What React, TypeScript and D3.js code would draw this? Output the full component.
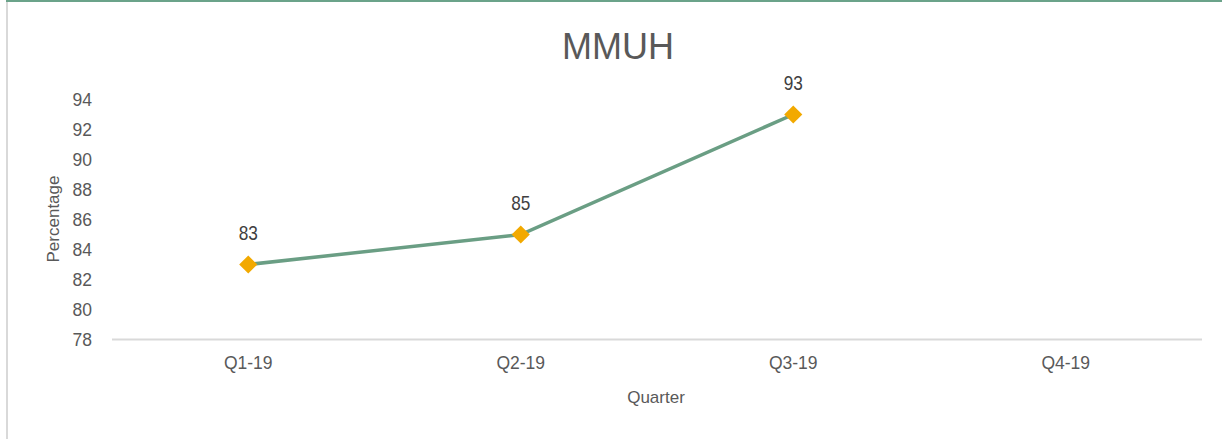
import React from 'react';
import * as d3 from 'd3';

const quarters = ['Q1-19', 'Q2-19', 'Q3-19', 'Q4-19'];
const values: (number | null)[] = [83, 85, 93, null];
const yTicks = [78, 80, 82, 84, 86, 88, 90, 92, 94];

const W = 1222;
const H = 439;
const textColor = '#595959';
const font = '"Liberation Sans", Arial, sans-serif';

const App: React.FC = () => {
  const x = d3.scaleBand<string>().domain(quarters).range([112, 1202]);
  const y = d3.scaleLinear().domain([78, 94]).range([339.5, 99.5]);

  const pts = quarters
    .map((q, i) => ({ q, v: values[i] }))
    .filter((d) => d.v !== null) as { q: string; v: number }[];

  const line = d3.line<{ q: string; v: number }>()
    .x((d) => x(d.q)! + x.bandwidth() / 2)
    .y((d) => y(d.v));

  // diamond ~18px across, like the Excel marker
  const diamond = d3.symbol().type(d3.symbolDiamond2).size(210)();

  return (
    <svg width={W} height={H} style={{ position: 'absolute', left: 0, top: 0, background: '#fff' }}>
      {/* frame */}
      <line x1={6} x2={W} y1={1} y2={1} stroke="#6ba38a" strokeWidth={2} />
      <line x1={7} x2={7} y1={2} y2={H} stroke="#d9d9d9" strokeWidth={2} />

      <text x={618} y={59} textAnchor="middle" fontSize={36} fill={textColor} fontFamily={font}>MMUH</text>

      {yTicks.map((t) => (
        <text key={t} x={92} y={y(t)} dy="0.35em" textAnchor="end" fontSize={17.5} fill={textColor} fontFamily={font}>{t}</text>
      ))}

      <line x1={112} x2={1202} y1={y(78)} y2={y(78)} stroke="#d9d9d9" strokeWidth={2} />

      {quarters.map((q) => (
        <text key={q} x={x(q)! + x.bandwidth() / 2} y={369} textAnchor="middle" fontSize={17.5} fill={textColor} fontFamily={font}>{q}</text>
      ))}

      <text x={656} y={403} textAnchor="middle" fontSize={17} fill={textColor} fontFamily={font}>Quarter</text>
      <text transform="translate(59,219) rotate(-90)" textAnchor="middle" fontSize={17} fill={textColor} fontFamily={font}>Percentage</text>

      <path d={line(pts) ?? ''} fill="none" stroke="#6a9e84" strokeWidth={3.5} />

      {pts.map((d) => (
        <g key={d.q} transform={`translate(${x(d.q)! + x.bandwidth() / 2},${y(d.v)})`}>
          <path d={diamond ?? ''} fill="#f2a900" />
          <text transform="translate(0,-25) scale(0.82,1)" textAnchor="middle" fontSize={21} fill="#404040" fontFamily={font}>{d.v}</text>
        </g>
      ))}
    </svg>
  );
};

export default App;
